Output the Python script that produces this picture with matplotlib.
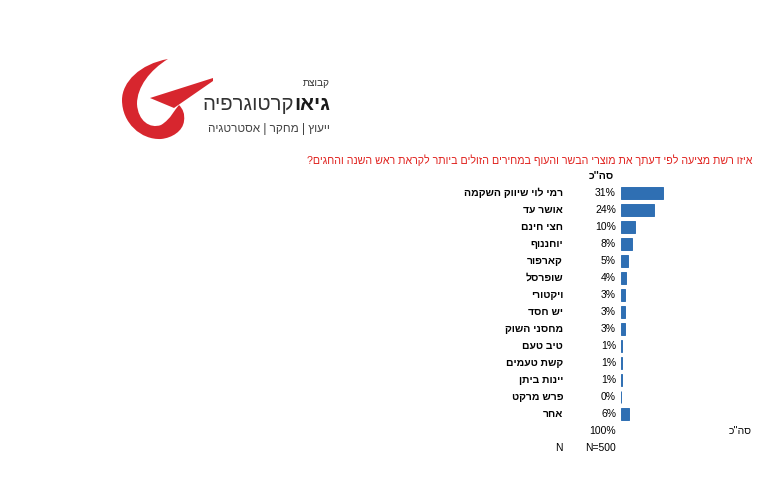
import matplotlib
matplotlib.use("Agg")
import matplotlib.pyplot as plt
from matplotlib import font_manager
from matplotlib.path import Path
from matplotlib.patches import PathPatch, Polygon
from matplotlib.transforms import blended_transform_factory

# ---------------- data ----------------
title = "איזו רשת מציעה לפי דעתך את מוצרי הבשר והעוף במחירים הזולים ביותר לקראת ראש השנה והחגים?"
header = "סה''כ"
categories = ["רמי לוי שיווק השקמה", "אושר עד", "חצי חינם", "יוחננוף", "קארפור",
              "שופרסל", "ויקטורי", "יש חסד", "מחסני השוק", "טיב טעם",
              "קשת טעמים", "יינות ביתן", "פרש מרקט", "אחר"]
values = [31, 24, 10, 8, 5, 4, 3, 3, 3, 1, 1, 1, 0, 6]
total_label = "100%"
n_label = "N=500"

FONT = ["Liberation Sans", "DejaVu Sans"]
plt.rcParams["font.family"] = FONT

NARROW = "Liberation Sans"

def rev(s):
    return s[::-1]

W, H = 757, 482
fig = plt.figure(figsize=(W / 100, H / 100), dpi=100)
fig.patch.set_facecolor("white")

def fx(px):
    return px / W

def fy(py):
    return 1 - py / H

# ---------------- logo (decoration) ----------------
lg = fig.add_axes([0, 0, 1, 1])
lg.set_xlim(0, W)
lg.set_ylim(H, 0)
lg.axis("off")
red = "#d7262e"
verts = [(168, 59),
         (140, 64), (122, 82), (122, 100),
         (122, 123), (141, 140), (161, 139),
         (172, 138), (183, 131), (184, 121),
         (185, 114), (183, 109), (179, 105),
         (175, 109), (171, 119), (161, 125),
         (150, 129), (138, 121), (137, 104),
         (137, 87), (150, 70), (168, 59),
         (168, 59)]
codes = [Path.MOVETO] + [Path.CURVE4] * 21 + [Path.CLOSEPOLY]
lg.add_patch(PathPatch(Path(verts, codes), facecolor=red, edgecolor="none"))
lg.add_patch(Polygon([(213, 78), (150, 98), (174, 108), (213, 81)],
                     closed=True, facecolor=red, edgecolor="none"))

fig.canvas.draw()
r = fig.canvas.get_renderer()

def fit_text(x_right, y, s, target_w, size0, **kw):
    t = lg.text(x_right, y, s, ha="right", va="baseline", fontsize=size0, **kw)
    w = t.get_window_extent(renderer=r).width
    t.set_fontsize(size0 * target_w / w)
    return t

fit_text(330, 86, rev("קבוצת"), 27, 12, color="#333333", family=NARROW)
# main logo word: bold part + regular part
tb = lg.text(330, 110, rev("גיאו"), ha="right", va="baseline", fontsize=17,
             fontweight="bold", color="#1a1a1a", family=NARROW)
tr_ = lg.text(300, 110, rev("קרטוגרפיה"), ha="right", va="baseline", fontsize=17,
              color="#333333", family=NARROW)
wb = tb.get_window_extent(renderer=r).width
wr = tr_.get_window_extent(renderer=r).width
scale = 128 / (wb + wr)
tb.set_fontsize(17 * scale)
tr_.set_fontsize(17 * scale)
fig.canvas.draw()
wb = tb.get_window_extent(renderer=r).width
tr_.set_x(330 - wb)
fit_text(330, 132, rev("ייעוץ | מחקר | אסטרטגיה"), 122, 10, color="#444444",
         family=NARROW)

# ---------------- title ----------------
fig.text(fx(752), fy(160), rev(title), ha="right", va="center", fontsize=7.7,
         color="#e0201c")

# ---------------- bars ----------------
n = len(values)
ax = fig.add_axes([fx(621), fy(193 + 17 * (n - 1) + 8.5), 136 / W, (17 * n) / H])
blue = "#2f6fb3"
ax.barh(range(n), values, height=0.76, color=blue, edgecolor=blue, linewidth=0.7)
ax.set_xlim(0, 100)
ax.set_ylim(n - 0.5, -0.5)
ax.axis("off")

tr = blended_transform_factory(fig.transFigure, ax.transData)
ax.text(fx(614), -1, rev(header), transform=tr, ha="right", va="center",
        fontsize=7.5, fontweight="bold")
for i, (c, v) in enumerate(zip(categories, values)):
    ax.text(fx(563), i, rev(c), transform=tr, ha="right", va="center",
            fontsize=7.5, fontweight="bold")
    ax.text(fx(616), i, f"{v}%", transform=tr, ha="right", va="center", fontsize=7.5)
ax.text(fx(616), n, total_label, transform=tr, ha="right", va="center", fontsize=7.5)
ax.text(fx(752), n, rev(header), transform=tr, ha="right", va="center", fontsize=7.5)
ax.text(fx(563), n + 1, "N", transform=tr, ha="right", va="center", fontsize=7.5)
ax.text(fx(616), n + 1, n_label, transform=tr, ha="right", va="center", fontsize=7.5)

fig.savefig("out.png", dpi=100, facecolor="white")
